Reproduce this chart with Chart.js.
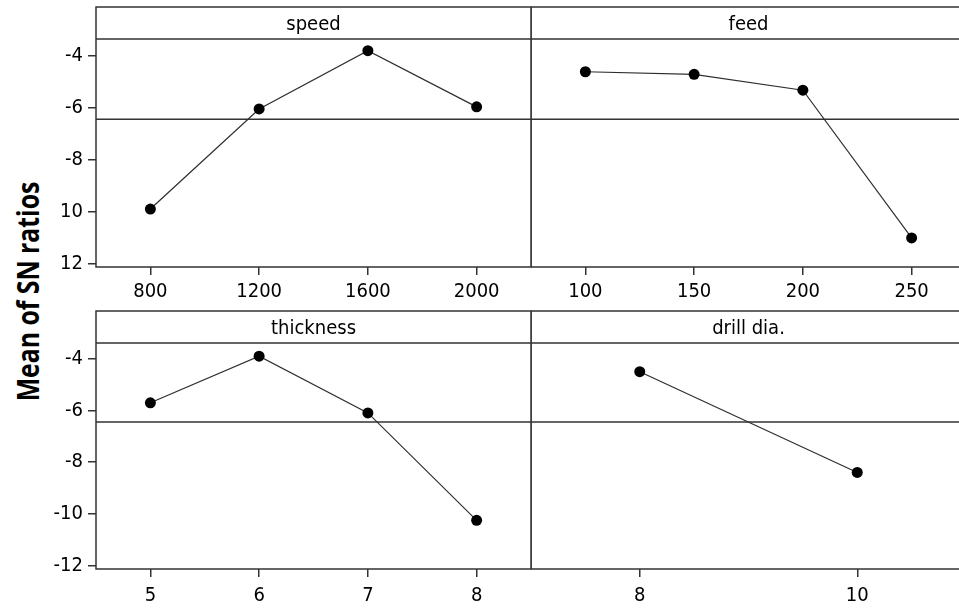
<!DOCTYPE html>
<html>
<head>
<meta charset="utf-8">
<title>Main effects plot for SN ratios</title>
<script src="https://cdn.jsdelivr.net/npm/chart.js@4.4.1/dist/chart.umd.min.js"></script>
<style>
  html, body { margin: 0; padding: 0; background: #fff; overflow: hidden; }
  body { width: 959px; height: 611px; position: relative; }
  canvas { position: absolute; }
  #ytitle {
    position: absolute; left: -129px; top: 276px; width: 300px; height: 31px;
    line-height: 31px; text-align: center; white-space: nowrap; color: #000;
    font: bold 31px "Open Sans", "Liberation Sans", sans-serif;
    transform: rotate(-90deg) scaleX(0.8);
  }
</style>
</head>
<body>
<div id="ytitle">Mean of SN ratios</div>
<canvas id="speedChart" width="533" height="306" style="left:0;top:0"></canvas>
<canvas id="feedChart" width="440" height="306" style="left:531px;top:0"></canvas>
<canvas id="thicknessChart" width="533" height="311" style="left:0;top:300px"></canvas>
<canvas id="drillChart" width="440" height="311" style="left:531px;top:300px"></canvas>
<script>
// factor levels and mean SN ratio
const speedLevels = ['800', '1200', '1600', '2000'];
const speedSN = [-9.90, -6.05, -3.81, -5.97];
const feedLevels = ['100', '150', '200', '250'];
const feedSN = [-4.62, -4.72, -5.33, -11.01];
const thicknessLevels = ['5', '6', '7', '8'];
const thicknessSN = [-5.71, -3.91, -6.10, -10.25];
const drillLevels = ['8', '10'];
const drillSN = [-4.51, -8.40];
const meanSN = -6.45;

const panelTitles = ['speed', 'feed', 'thickness', 'drill dia.'];
const yTickValues = [-12, -10, -8, -6, -4];
const yTickLabelsTop = ['12', '10', '-8', '-6', '-4'];
const yTickLabelsBottom = ['-12', '-10', '-8', '-6', '-4'];

const lineGray = '#333';
const tickFont = { family: '"DejaVu Sans Condensed", "DejaVu Sans", sans-serif', size: 20 };

// frame, title strip and grand-mean reference line of each panel
const panelFrame = {
    id: 'panelFrame',
    beforeDatasetsDraw(chart, args, opts) {
        const { ctx, chartArea: a } = chart;
        const top = a.top - opts.headerHeight;
        const my = chart.scales.y.getPixelForValue(meanSN);
        ctx.save();
        ctx.strokeStyle = lineGray;
        ctx.lineWidth = 1.5;
        ctx.beginPath();
        ctx.rect(a.left, top, a.right - a.left, a.bottom - top);
        ctx.moveTo(a.left, a.top);
        ctx.lineTo(a.right, a.top);
        ctx.moveTo(a.left, my);
        ctx.lineTo(a.right, my);
        ctx.stroke();
        ctx.fillStyle = '#000';
        ctx.font = '20px "DejaVu Sans Condensed", "DejaVu Sans", sans-serif';
        ctx.textAlign = 'center';
        ctx.textBaseline = 'alphabetic';
        ctx.fillText(opts.title, (a.left + a.right) / 2, a.top - 9.5);
        ctx.restore();
    }
};

function makePanel(id, levels, values, title, p) {
    const yScale = {
        display: p.showY,
        min: -12.13,
        max: p.yMax,
        afterBuildTicks: s => { s.ticks = yTickValues.map(v => ({ value: v })); },
        ticks: { callback: (v, i) => p.yLabels[i], font: tickFont, color: '#000', padding: 5 },
        grid: { drawOnChartArea: false, tickLength: 8, color: lineGray, lineWidth: 1.5 },
        border: { display: false }
    };
    if (p.showY) yScale.afterFit = s => { s.width = 96; };

    return new Chart(document.getElementById(id), {
        type: 'line',
        data: {
            labels: levels,
            datasets: [{
                data: values,
                borderColor: '#2e2e2e',
                borderWidth: 1.2,
                pointRadius: 5.5,
                pointBackgroundColor: '#000',
                pointBorderWidth: 0,
                tension: 0,
                clip: false
            }]
        },
        options: {
            responsive: false,
            animation: false,
            devicePixelRatio: 1,
            layout: { autoPadding: false, padding: { top: p.padTop, right: p.padRight, left: 0, bottom: 0 } },
            plugins: {
                legend: { display: false },
                tooltip: { enabled: false },
                panelFrame: { title: title, headerHeight: 32 }
            },
            scales: {
                x: {
                    type: 'category',
                    offset: true,
                    grid: { drawOnChartArea: false, drawTicks: true, tickLength: 8, color: lineGray, lineWidth: 1.5 },
                    border: { display: false },
                    ticks: { color: '#000', font: tickFont, padding: p.xPad, autoSkip: false, maxRotation: 0 },
                    afterFit: s => { s.height = p.xHeight; }
                },
                y: yScale
            }
        },
        plugins: [panelFrame]
    });
}

makePanel('speedChart', speedLevels, speedSN, panelTitles[0],
    { showY: true, yLabels: yTickLabelsTop, yMax: -3.36, padTop: 39, padRight: 2, xHeight: 39, xPad: 5 });
makePanel('feedChart', feedLevels, feedSN, panelTitles[1],
    { showY: false, yLabels: yTickLabelsTop, yMax: -3.36, padTop: 39, padRight: 5, xHeight: 39, xPad: 5 });
makePanel('thicknessChart', thicknessLevels, thicknessSN, panelTitles[2],
    { showY: true, yLabels: yTickLabelsBottom, yMax: -3.40, padTop: 43, padRight: 2, xHeight: 42, xPad: 7 });
makePanel('drillChart', drillLevels, drillSN, panelTitles[3],
    { showY: false, yLabels: yTickLabelsBottom, yMax: -3.40, padTop: 43, padRight: 5, xHeight: 42, xPad: 7 });
</script>
</body>
</html>
